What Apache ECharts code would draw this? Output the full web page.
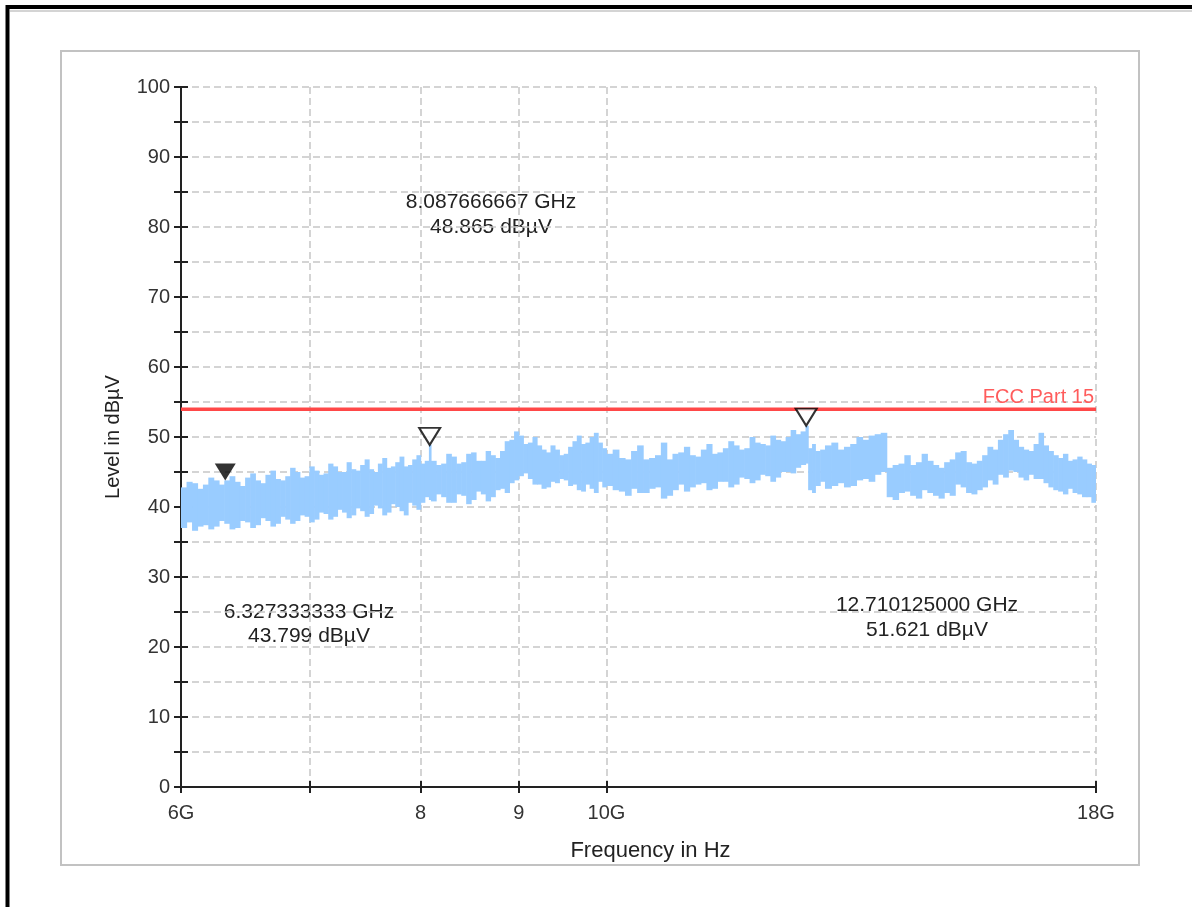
<!DOCTYPE html>
<html>
<head>
<meta charset="utf-8">
<title>Level in dBµV</title>
<script src="https://cdn.jsdelivr.net/npm/echarts@6/dist/echarts.min.js"></script>
<style>
html, body { margin: 0; padding: 0; background: #fff; }
#chart { width: 1192px; height: 907px; }
</style>
</head>
<body>
<div id="chart"></div>
<script>
// measured trace, frequency in GHz, upper / lower edge of the noise band in dBµV
var traceFreq = [6.00, 6.04, 6.08, 6.12, 6.16, 6.20, 6.24, 6.28, 6.32, 6.36, 6.40, 6.44, 6.48, 6.52, 6.56, 6.60,
    6.64, 6.68, 6.72, 6.76, 6.80, 6.84, 6.88, 6.92, 6.96, 7.00, 7.04, 7.08, 7.12, 7.16, 7.20, 7.24, 7.28, 7.32,
    7.36, 7.40, 7.44, 7.48, 7.52, 7.56, 7.60, 7.64, 7.68, 7.72, 7.76, 7.80, 7.84, 7.88, 7.92, 7.96, 8.00, 8.04,
    8.08, 8.10, 8.15, 8.2, 8.25, 8.3, 8.35, 8.4, 8.45, 8.5, 8.55, 8.6, 8.65, 8.7, 8.75, 8.8, 8.85, 8.9, 8.95,
    9.0, 9.05, 9.1, 9.15, 9.2, 9.25, 9.3, 9.35, 9.4, 9.45, 9.5, 9.55, 9.6, 9.65, 9.7, 9.75, 9.8, 9.85, 9.9, 9.95,
    10.0, 10.075, 10.15, 10.225, 10.3, 10.375, 10.45, 10.525, 10.6, 10.675, 10.75, 10.825, 10.9, 10.975, 11.05,
    11.125, 11.2, 11.275, 11.35, 11.425, 11.5, 11.575, 11.65, 11.725, 11.8, 11.875, 11.95, 12.025, 12.1, 12.175,
    12.25, 12.325, 12.4, 12.475, 12.55, 12.625, 12.7, 12.74, 12.8, 12.85, 12.925, 13.0, 13.1, 13.2, 13.3, 13.4,
    13.5, 13.6, 13.7, 13.8, 13.9, 14.0, 14.1, 14.2, 14.3, 14.4, 14.5, 14.6, 14.7, 14.8, 14.9, 15.0, 15.1, 15.2,
    15.3, 15.4, 15.5, 15.6, 15.7, 15.8, 15.9, 16.0, 16.1, 16.2, 16.3, 16.4, 16.5, 16.6, 16.7, 16.8, 16.9, 17.0,
    17.1, 17.2, 17.3, 17.4, 17.5, 17.6, 17.7, 17.8, 17.9, 18.0];
var traceHigh = [42.8, 43.6, 43.4, 42.6, 43.2, 44.2, 43.8, 43.2, 43.8, 44.4, 43.6, 43.0, 44.2, 44.8, 43.8, 43.4,
    44.6, 45.2, 44.0, 43.8, 44.4, 45.6, 45.0, 44.2, 44.4, 45.8, 45.2, 44.6, 44.8, 46.2, 45.8, 45.0, 45.0, 46.4,
    45.4, 45.2, 46.0, 46.8, 45.4, 45.0, 46.2, 47.0, 45.6, 45.8, 46.4, 47.2, 45.8, 46.0, 46.8, 47.4, 46.2, 46.6,
    48.9, 46.6, 46.0, 46.2, 47.6, 47.2, 46.2, 46.4, 47.6, 47.8, 46.6, 46.6, 48.0, 47.4, 47.0, 48.0, 49.4, 49.6, 50.8,
    50.2, 49.0, 49.2, 50.0, 48.8, 48.2, 47.8, 48.8, 48.2, 47.4, 47.6, 48.6, 49.4, 50.2, 49.0, 49.2, 50.0, 50.6, 49.2, 48.4,
    47.6, 48.2, 47.0, 46.8, 48.0, 48.8, 46.8, 47.0, 47.4, 49.2, 46.8, 47.6, 47.8, 48.6, 47.4,
    47.2, 48.2, 49.0, 47.6, 47.8, 48.4, 49.4, 48.8, 48.2, 48.4, 50.0, 49.2, 49.0, 48.8, 50.2,
    49.6, 49.4, 50.0, 51.0, 50.4, 50.8, 51.6, 48.4, 49.0, 48.0, 48.2, 48.8, 49.2, 48.2, 48.6, 49.0,
    50.0, 49.6, 50.2, 50.4, 50.6, 45.6, 46.0, 46.2, 47.4, 46.0, 46.4, 47.6, 46.6, 46.0, 45.6, 46.4, 46.8, 47.8,
    48.0, 46.4, 46.2, 46.6, 47.4, 48.6, 48.2, 49.6, 50.4, 51.0, 49.6, 48.6, 48.2, 48.0, 49.0, 50.6, 48.8, 48.0,
    47.4, 47.0, 47.6, 46.6, 46.8, 47.2, 46.8, 46.2, 46.0, 45.8];
var traceLow = [37.0, 37.8, 36.6, 37.2, 37.4, 36.8, 37.2, 38.0, 37.6, 36.8, 37.0, 38.0, 37.8, 37.0, 37.4, 38.4,
    38.0, 37.2, 37.6, 38.6, 38.2, 37.6, 38.0, 38.8, 38.6, 37.8, 38.2, 39.2, 39.0, 38.2, 38.6, 39.6, 39.2, 38.4,
    38.8, 39.8, 39.4, 38.6, 39.0, 40.2, 39.8, 38.8, 39.2, 40.4, 40.0, 39.4, 38.8, 40.6, 40.2, 39.6, 40.6, 41.4,
    41.0, 40.8, 41.8, 41.4, 40.6, 40.6, 41.8, 41.6, 40.4, 41.0, 42.2, 41.8, 40.8, 41.4, 42.4, 42.6, 42.0, 43.4, 43.8,
    44.4, 44.8, 44.0, 43.2, 43.2, 42.6, 42.8, 43.6, 43.4, 44.0, 43.8, 43.0, 43.2, 42.4, 42.2, 43.2, 42.6, 42.0, 43.6, 42.8,
    43.0, 42.4, 42.2, 41.6, 42.6, 42.0, 42.0, 42.6, 42.8, 41.2, 41.6, 42.4, 43.2, 42.2, 42.8,
    43.2, 43.4, 42.4, 42.6, 43.6, 43.6, 42.8, 43.2, 44.2, 44.0, 43.4, 43.8, 44.6, 44.4, 43.6,
    44.2, 45.0, 45.0, 44.8, 45.6, 46.0, 46.2, 42.4, 42.0, 43.0, 43.6, 42.6, 43.0, 43.4, 42.8, 43.0,
    43.8, 44.0, 43.6, 44.6, 45.0, 41.4, 41.0, 42.0, 42.2, 41.6, 41.2, 42.4, 42.0, 41.6, 41.2, 42.0, 41.6, 43.2,
    42.8, 42.0, 41.8, 42.4, 42.8, 43.8, 43.2, 44.6, 44.2, 45.2, 45.0, 44.2, 43.8, 44.6, 44.0, 44.0, 43.4, 42.8,
    42.4, 42.2, 41.8, 42.6, 42.0, 41.8, 41.4, 41.4, 40.6, 40.8];

var markerFreq = [6.327333333, 8.087666667, 12.710125];
var markerLevel = [43.799, 48.865, 51.621];

var limitName = 'FCC Part 15';
var limitFreq = [6, 18];
var limitLevel = [54, 54];

var xTickValues = [6, 7, 8, 9, 10, 18];
var xTickLabels = ['6G', '', '8', '9', '10G', '18G'];

var FONT = "'Liberation Sans', Arial, sans-serif";
var gridDash = { color: '#c6c6c6', width: 1.5, type: [7, 4] };

var chart = echarts.init(document.getElementById('chart'));

function markerText(i) {
    return markerFreq[i].toFixed(9) + ' GHz\n' + markerLevel[i].toFixed(3) + ' dBµV';
}

var triangle = 'path://M0,0L22,0L11,17Z';
var markerFont = '21px ' + FONT;

var option = {
    animation: false,
    grid: { left: 181, top: 87, right: 96, bottom: 120 },
    xAxis: [{
        type: 'log',
        logBase: 10,
        min: 6,
        max: 18,
        name: 'Frequency in Hz',
        nameLocation: 'middle',
        nameGap: 53,
        nameTextStyle: { fontFamily: FONT, fontSize: 22, color: '#222', padding: [0, 0, 0, 24] },
        axisLine: { lineStyle: { color: '#222', width: 2 } },
        axisTick: { inside: false, length: 6, customValues: xTickValues, lineStyle: { color: '#222', width: 2 } },
        axisLabel: {
            customValues: xTickValues,
            margin: 16,
            fontFamily: FONT, fontSize: 20, color: '#333',
            formatter: function (v) {
                var i = xTickValues.indexOf(Math.round(v));
                return i >= 0 ? xTickLabels[i] : '';
            }
        },
        splitLine: { show: true, lineStyle: gridDash }
    }, {
        type: 'log',
        logBase: 10,
        min: 6,
        max: 18,
        position: 'bottom',
        axisLine: { show: false },
        axisTick: { inside: true, length: 6, customValues: xTickValues, lineStyle: { color: '#222', width: 2 } },
        axisLabel: { show: false },
        splitLine: { show: false }
    }],
    yAxis: [{
        type: 'value',
        min: 0,
        max: 100,
        interval: 10,
        name: 'Level in dBµV',
        nameLocation: 'middle',
        nameGap: 58,
        nameTextStyle: { fontFamily: FONT, fontSize: 20, color: '#222' },
        axisLine: { show: true, lineStyle: { color: '#222', width: 2 } },
        axisTick: { show: true, length: 7, lineStyle: { color: '#222', width: 2 } },
        minorTick: { show: true, splitNumber: 2, length: 7, lineStyle: { color: '#222', width: 2 } },
        axisLabel: { margin: 11, fontFamily: FONT, fontSize: 20, color: '#333' },
        splitLine: { show: true, lineStyle: gridDash },
        minorSplitLine: { show: true, lineStyle: gridDash }
    }, {
        type: 'value',
        min: 0,
        max: 100,
        interval: 10,
        position: 'left',
        axisLine: { show: false },
        axisTick: { show: true, inside: true, length: 7, lineStyle: { color: '#222', width: 2 } },
        minorTick: { show: true, splitNumber: 2, length: 7, lineStyle: { color: '#222', width: 2 } },
        axisLabel: { show: false },
        splitLine: { show: false }
    }],
    series: [{
        type: 'custom',
        name: 'trace',
        silent: true,
        clip: true,
        encode: { x: 0, y: [1, 2] },
        data: traceFreq.map(function (f, i) { return [f, traceLow[i], traceHigh[i]]; }),
        renderItem: function (params, api) {
            var i = params.dataIndex;
            if (i >= traceFreq.length - 1) return;
            var top = api.coord([api.value(0), api.value(2)]);
            var bottom = api.coord([traceFreq[i + 1], api.value(1)]);
            return {
                type: 'rect',
                shape: { x: top[0], y: top[1], width: bottom[0] - top[0] + 0.6, height: bottom[1] - top[1] },
                style: { fill: '#99ccff' }
            };
        },
        z: 2
    }, {
        type: 'line',
        name: limitName,
        silent: true,
        data: limitFreq.map(function (f, i) { return [f, limitLevel[i]]; }),
        symbol: 'none',
        lineStyle: { color: '#ff4848', width: 3 },
        markLine: {
            silent: true,
            symbol: 'none',
            lineStyle: { color: '#ff4848', width: 3, type: 'solid' },
            label: {
                show: true,
                position: 'insideEndTop',
                formatter: limitName,
                fontFamily: FONT, fontSize: 20, color: '#ff5c5c', distance: 2
            },
            data: [{ yAxis: limitLevel[0] }]
        },
        z: 3
    }, {
        type: 'scatter',
        name: 'active marker',
        silent: true,
        data: [[markerFreq[0], markerLevel[0]]],
        symbol: triangle,
        symbolSize: [21, 17],
        symbolOffset: [0, -8.5],
        itemStyle: { color: '#000' },
        z: 5
    }, {
        type: 'scatter',
        name: 'markers',
        silent: true,
        data: [1, 2].map(function (i) { return [markerFreq[i], markerLevel[i]]; }),
        symbol: triangle,
        symbolSize: [21, 17],
        symbolOffset: [0, -8.5],
        itemStyle: { color: '#fff', borderColor: '#000', borderWidth: 2 },
        z: 5
    }],
    graphic: [
        { type: 'rect', shape: { x: 7.5, y: 7, width: 1300, height: 1000 }, style: { fill: null, stroke: '#000', lineWidth: 4 }, silent: true },
        { type: 'line', shape: { x1: 10, y1: 11, x2: 1192, y2: 11 }, style: { stroke: '#d4d4d4', lineWidth: 2 }, silent: true },
        { type: 'rect', shape: { x: 61, y: 51, width: 1078, height: 814 }, style: { fill: null, stroke: '#c2c2c2', lineWidth: 2 }, silent: true },
        { type: 'text', x: 309, y: 600, style: { text: markerText(0), font: markerFont, fill: '#222', textAlign: 'center', lineHeight: 24 }, silent: true },
        { type: 'text', x: 491, y: 190, style: { text: markerText(1), font: markerFont, fill: '#222', textAlign: 'center', lineHeight: 25 }, silent: true },
        { type: 'text', x: 927, y: 593, style: { text: markerText(2), font: markerFont, fill: '#222', textAlign: 'center', lineHeight: 25 }, silent: true }
    ]
};

chart.setOption(option);
</script>
</body>
</html>
